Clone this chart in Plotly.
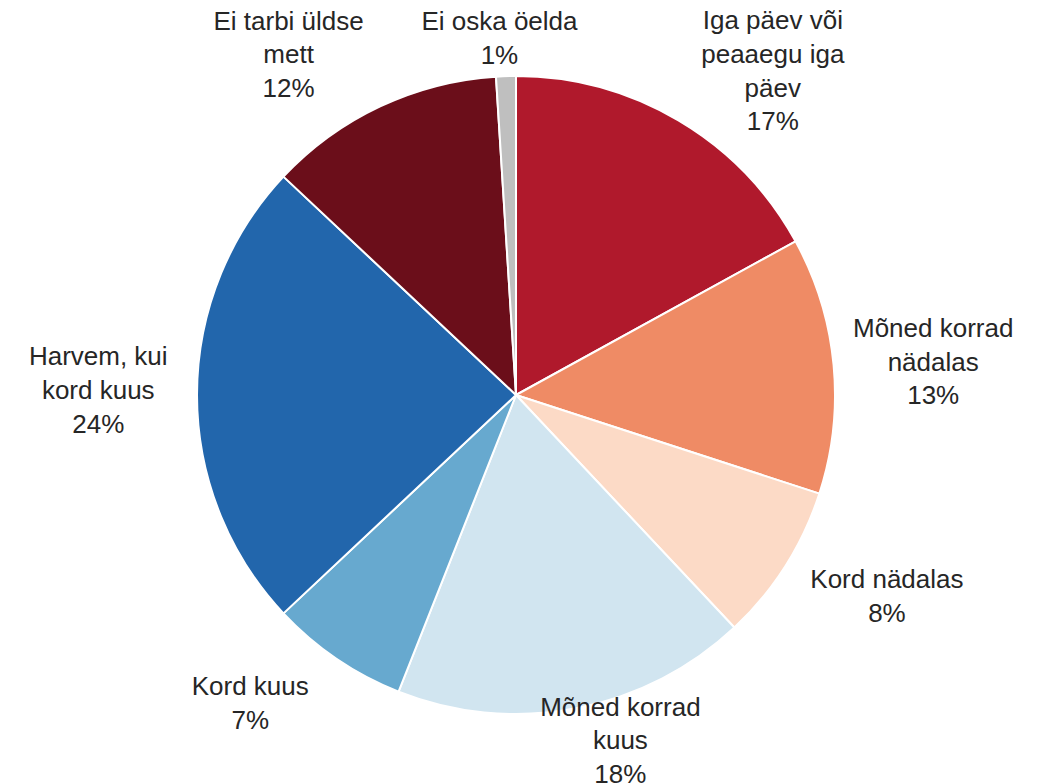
import plotly.graph_objects as go

# Survey answers (honey consumption frequency), clockwise from 12 o'clock
labels = [
    "Iga päev või<br>peaaegu iga<br>päev",
    "Mõned korrad<br>nädalas",
    "Kord nädalas",
    "Mõned korrad<br>kuus",
    "Kord kuus",
    "Harvem, kui<br>kord kuus",
    "Ei tarbi üldse<br>mett",
    "Ei oska öelda",
]
shares = [17, 13, 8, 18, 7, 24, 12, 1]
colors = ["#B0192C", "#EF8B65", "#FCDAC6", "#D1E5F0", "#67A9CF",
          "#2266AC", "#6B0E1A", "#BFBFBF"]

W, H = 1041, 784
# pie centre and radius in pixels (the page body adds an 8px offset)
cx, cy, r = 516 - 8, 395 - 8, 319
font = dict(family="Liberation Sans, Arial", size=26, color="#262626")

# small pixel nudges for each outside label (right, down)
nudge = [(-10, -1), (-5, -3), (9, 21), (-60, -15),
         (-12, 22), (-5, -5), (8, -12), (88, -6)]


def domain(dx=0, dy=0):
    return dict(x=[(cx - r + dx) / W, (cx + r + dx) / W],
                y=[1 - (cy + r + dy) / H, 1 - (cy - r + dy) / H])


fig = go.Figure()
fig.add_trace(go.Pie(
    labels=labels, values=shares, sort=False,
    direction="clockwise", rotation=0,
    marker=dict(colors=colors, line=dict(color="white", width=2)),
    textinfo="none", showlegend=False, automargin=False, domain=domain(),
))

# labels: one invisible copy of the pie per label so each can be nudged
for i in range(len(labels)):
    tmpl = [""] * len(labels)
    tmpl[i] = "%{label}<br>%{value}%"
    fig.add_trace(go.Pie(
        labels=labels, values=shares, sort=False,
        direction="clockwise", rotation=0,
        marker=dict(colors=["rgba(0,0,0,0)"] * len(labels), line=dict(width=0)),
        texttemplate=tmpl, textposition="outside", textfont=font,
        showlegend=False, automargin=False, hoverinfo="skip",
        domain=domain(*nudge[i]),
    ))

fig.update_layout(
    width=W,
    height=H,
    margin=dict(l=0, r=0, t=0, b=0),
    paper_bgcolor="white",
    plot_bgcolor="white",
)

fig.write_html("out.html")
